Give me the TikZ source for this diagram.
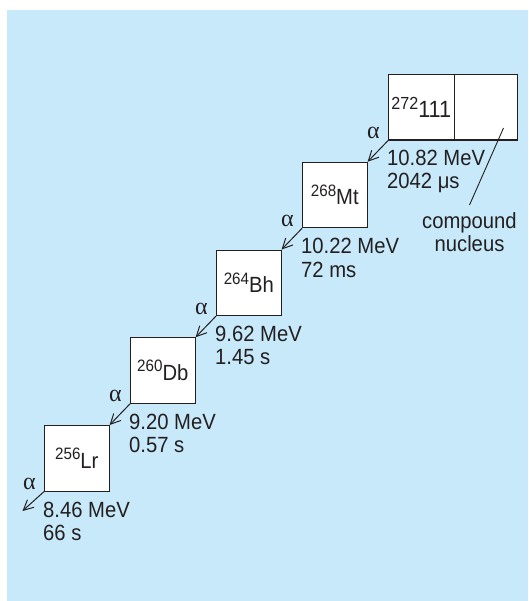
\documentclass[tikz,border=0pt]{standalone}
\usepackage{fontspec}
\setmainfont{Liberation Sans}[FakeStretch=0.92]
\newfontfamily\alphafont{Liberation Serif}
\usetikzlibrary{arrows.meta}
\definecolor{bg}{RGB}{199,233,249}
\definecolor{ink}{RGB}{35,31,32}
\newcommand\twolines[2]{\vtop{\baselineskip=23.3pt\hbox{#1}\hbox{#2}}}
\newcommand\twolinesC[2]{\vtop{\baselineskip=23.4pt\hbox to 0pt{\hss#1\hss}\hbox to 0pt{\hss#2\hss}}}
\newcommand\iso[3][16.5]{{\fontsize{#1}{#1}\selectfont\raisebox{8.5pt}{#2}}#3}
\begin{document}
\begin{tikzpicture}[x=1pt,y=-1pt,
  font=\fontsize{22}{23}\selectfont, text=ink,
  nuc/.style={draw=ink, fill=white, line width=1.1pt, minimum width=64.5pt,
    minimum height=65.5pt, inner sep=0pt, anchor=north west},
  decay/.style={draw=ink, line width=1pt, -{Straight Barb[length=10pt,width=10pt]}},
  alph/.style={font=\alphafont\fontsize{24}{24}\selectfont, inner sep=0pt},
  elab/.style={inner sep=0pt, anchor=base west}]
\useasboundingbox (0,0) rectangle (528,601);
\fill[bg] (7,10) rectangle (528,601);
% nuclei
\node[nuc] (lr) at (44,425) {\iso{256}{Lr}};
\node[nuc] (db) at (130,337.25) {\iso{260}{Db}};
\node[nuc] (bh) at (216,249.5) {\iso{264}{Bh}};
\node[nuc] (mt) at (302,161.75) {\iso{268}{Mt}};
\node[nuc, minimum width=65.5pt] (e111) at (388,74) {\fontsize{23.5}{24}\selectfont\iso[17.5]{272}{111}};
\node[nuc, minimum width=63.5pt] (cn) at (453.5,74) {};
% decays
\coordinate (out) at (22.5,511);
\draw[decay] (e111.south west) -- (mt.north east);
\draw[decay] (mt.south west) -- (bh.north east);
\draw[decay] (bh.south west) -- (db.north east);
\draw[decay] (db.south west) -- (lr.north east);
\draw[decay] (lr.south west) -- (out);
% alpha labels
\node[alph] (a1) at ([xshift=-14.5pt,yshift=7.5pt]e111.south west) {α};
\node[alph] (a2) at ([xshift=-14.5pt,yshift=7.5pt]mt.south west) {α};
\node[alph] (a3) at ([xshift=-14.5pt,yshift=7.5pt]bh.south west) {α};
\node[alph] (a4) at ([xshift=-14.5pt,yshift=7.5pt]db.south west) {α};
\node[alph] (a5) at ([xshift=-14.5pt,yshift=7.5pt]lr.south west) {α};
% energies and half-lives
\node[elab] (l1) at ([xshift=-1pt,yshift=-24.5pt]e111.south west) {\twolines{10.82 MeV}{2042 μs}};
\node[elab] (l2) at ([xshift=-1pt,yshift=-25.5pt]mt.south west) {\twolines{10.22 MeV}{72 ms}};
\node[elab] (l3) at ([xshift=-1pt,yshift=-25.5pt]bh.south west) {\twolines{9.62 MeV}{1.45 s}};
\node[elab] (l4) at ([xshift=-1pt,yshift=-25.5pt]db.south west) {\twolines{9.20 MeV}{0.57 s}};
\node[elab] (l5) at ([xshift=-1pt,yshift=-25.5pt]lr.south west) {\twolines{8.46 MeV}{66 s}};
% compound nucleus
\coordinate (cnp) at (503.5,128);
\coordinate (cne) at (469.5,205);
\draw[draw=ink, line width=0.9pt] (cnp) -- (cne);
\node[inner sep=0pt, anchor=base] (cnl) at (469.5,228.3) {\twolinesC{compound}{nucleus}};
\end{tikzpicture}
\end{document}
